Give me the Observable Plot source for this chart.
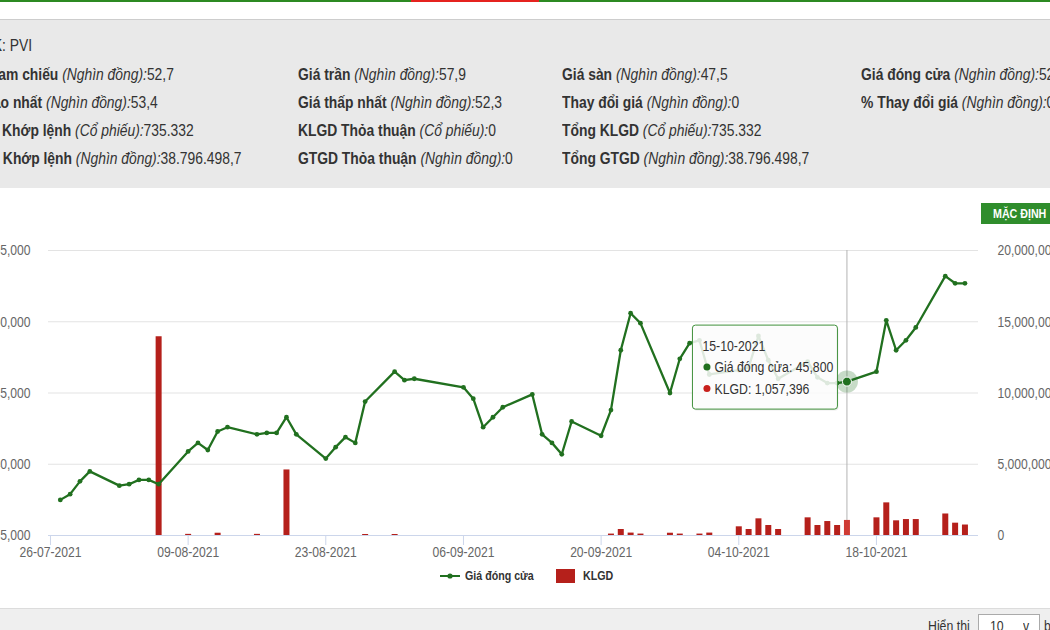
<!DOCTYPE html>
<html>
<head>
<meta charset="utf-8">
<script src="https://cdn.jsdelivr.net/npm/d3@7"></script>
<script src="https://cdn.jsdelivr.net/npm/@observablehq/plot@0.6"></script>
<style>
  html, body { margin: 0; padding: 0; width: 1050px; height: 630px; overflow: hidden; background: #fff; }
  body { position: relative; font-family: "Liberation Sans", Arial, sans-serif; }
  .nar { display: inline-block; transform: scaleX(0.82); transform-origin: 0 0; white-space: nowrap; }
  #topline { position: absolute; left: 0; top: 0; width: 1050px; height: 2px; background: #2c8a22; }
  #topline .red { position: absolute; left: 411px; top: 0; width: 128px; height: 2px; background: #e5231f; }
  #info { position: absolute; left: 0; top: 19px; width: 1050px; height: 168px; background: #e9e9e9; border-top: 1px solid #cdcdcd; }
  .cell { position: absolute; white-space: nowrap; font-size: 17px; line-height: 20px; color: #333; transform: scaleX(0.815); transform-origin: 0 0; }
  .cell b { font-weight: bold; }
  .cell i { font-style: italic; }
  #btn { position: absolute; left: 981px; top: 203px; width: 90px; height: 21px; background: #2f8d2c; color: #fff; font-size: 13px; font-weight: bold; line-height: 21px; padding-left: 12px; box-sizing: border-box; }
  #chart { position: absolute; left: 0; top: 230px; }
  #legend { position: absolute; left: 0; top: 566px; width: 1050px; height: 20px; font-size: 13px; font-weight: bold; color: #333; }
  #legend .item { position: absolute; top: 0; height: 20px; line-height: 20px; white-space: nowrap; }
  #bottom { position: absolute; left: 0; top: 608px; width: 1050px; height: 22px; background: #efefef; border-top: 1px solid #dcdcdc; }
  #bottom .lbl { position: absolute; left: 928px; top: 8px; font-size: 15px; color: #333; }
  #bottom .sel { position: absolute; left: 978px; top: 5px; width: 62px; height: 24px; background: #fff; border: 1px solid #aaa; box-sizing: border-box; font-size: 15px; color: #333; }
  #bottom .sel span { position: absolute; top: 2px; }
</style>
</head>
<body>
<div id="topline"><div class="red"></div></div>
<div id="info"></div>
<div id="btn"><span class="nar">MẶC ĐỊNH</span></div>
<div id="chart"></div>
<div id="legend"></div>
<div id="bottom">
  <div class="lbl"><span class="nar">Hiển thị</span></div>
  <div class="sel"><span style="left:11px" class="nar">10</span><span style="left:44px" class="nar">v</span></div>
  <div class="lbl" style="left:1044px"><span class="nar">bản ghi</span></div>
</div>
<script>
// ---------- data ----------
const infoRows = [
  [["Mã CK", "", ": PVI"]],
  [["Giá tham chiếu", "Nghìn đồng", "52,7"], ["Giá trần", "Nghìn đồng", "57,9"], ["Giá sàn", "Nghìn đồng", "47,5"], ["Giá đóng cửa", "Nghìn đồng", "52,7"]],
  [["Giá cao nhất", "Nghìn đồng", "53,4"], ["Giá thấp nhất", "Nghìn đồng", "52,3"], ["Thay đổi giá", "Nghìn đồng", "0"], ["% Thay đổi giá", "Nghìn đồng", "0"]],
  [["KLGD Khớp lệnh", "Cổ phiếu", "735.332"], ["KLGD Thỏa thuận", "Cổ phiếu", "0"], ["Tổng KLGD", "Cổ phiếu", "735.332"]],
  [["GTGD Khớp lệnh", "Nghìn đồng", "38.796.498,7"], ["GTGD Thỏa thuận", "Nghìn đồng", "0"], ["Tổng GTGD", "Nghìn đồng", "38.796.498,7"]]
];

const dates = [
  "2021-07-27","2021-07-28","2021-07-29","2021-07-30",
  "2021-08-02","2021-08-03","2021-08-04","2021-08-05","2021-08-06",
  "2021-08-09","2021-08-10","2021-08-11","2021-08-12","2021-08-13",
  "2021-08-16","2021-08-17","2021-08-18","2021-08-19","2021-08-20",
  "2021-08-23","2021-08-24","2021-08-25","2021-08-26","2021-08-27",
  "2021-08-30","2021-08-31","2021-09-01",
  "2021-09-06","2021-09-07","2021-09-08","2021-09-09","2021-09-10",
  "2021-09-13","2021-09-14","2021-09-15","2021-09-16","2021-09-17",
  "2021-09-20","2021-09-21","2021-09-22","2021-09-23","2021-09-24",
  "2021-09-27","2021-09-28","2021-09-29","2021-09-30","2021-10-01",
  "2021-10-04","2021-10-05","2021-10-06","2021-10-07","2021-10-08",
  "2021-10-11","2021-10-12","2021-10-13","2021-10-14","2021-10-15",
  "2021-10-18","2021-10-19","2021-10-20","2021-10-21","2021-10-22",
  "2021-10-25","2021-10-26","2021-10-27"
];
const closePrices = [
  37500, 37900, 38800, 39500,
  38500, 38600, 38900, 38900, 38600,
  40900, 41500, 41000, 42300, 42600,
  42100, 42200, 42200, 43300, 42100,
  40400, 41200, 41900, 41500, 44400,
  46500, 45900, 46000,
  45400, 44600, 42600, 43300, 44000,
  44900, 42100, 41500, 40700, 43000,
  42000, 43800, 48000, 50600, 49900,
  45000, 47400, 48500, 48700, 46300,
  46600, 46800, 49000, 47300, 46000,
  47200, 46100, 45700, 45700, 45800,
  46500, 50100, 48000, 48700, 49600,
  53200, 52700, 52700
];
const volumes = [
  20000, 15000, 25000, 20000,
  15000, 20000, 25000, 20000, 13950000,
  80000, 20000, 25000, 160000, 20000,
  80000, 20000, 25000, 4600000, 20000,
  20000, 25000, 20000, 15000, 70000,
  70000, 20000, 15000,
  20000, 25000, 20000, 15000, 20000,
  25000, 20000, 15000, 20000, 25000,
  30000, 100000, 420000, 170000, 100000,
  160000, 100000, 30000, 100000, 170000,
  610000, 420000, 1170000, 700000, 420000,
  1240000, 700000, 980000, 700000, 1057396,
  1240000, 2290000, 1030000, 1120000, 1120000,
  1510000, 865000, 735332
];
const priceTicks = [35000, 40000, 45000, 50000, 55000];
const volumeTicks = [0, 5000000, 10000000, 15000000, 20000000];
const dateTicks = ["2021-07-26","2021-08-09","2021-08-23","2021-09-06","2021-09-20","2021-10-04","2021-10-18"];
const xDomain = ["2021-07-25T19:12Z", "2021-10-28T09:05Z"];
const tipDate = "2021-10-15";
const seriesNames = ["Giá đóng cửa", "KLGD"];

// ---------- build ----------
const FONT = '"Liberation Sans", Arial, sans-serif';
const GREEN = "#21701f", RED = "#b5201b";
const PMIN = 35000, PMAX = 55000, VMAX = 20000000;
const v2p = v => PMIN + v / VMAX * (PMAX - PMIN);
const p2v = p => (p - PMIN) / (PMAX - PMIN) * VMAX;
const fmt = d3.format(",");
const fmtDate = d3.utcFormat("%d-%m-%Y");

const data = dates.map((d, i) => ({date: new Date(d), price: closePrices[i], vol: volumes[i]}));
const tip = data.find(d => +d.date === +new Date(tipDate));
// columns thinner than half a pixel are not drawn (pixel rounding of the original)
const barData = data.filter(d => d.vol >= 35000);

// info panel
const colX = [-41.5, 298, 562, 861];
const rowY = [36, 65, 93, 121, 149];
const info = d3.select("#info");
infoRows.forEach((row, r) => row.forEach((c, k) => {
  const el = info.append("div").attr("class", "cell").style("left", colX[k] + "px").style("top", (rowY[r] - 20) + "px");
  if (c[1]) el.html(`<b>${c[0]}</b> <i>(${c[1]}):</i>${c[2]}`);
  else el.html(`<b>${c[0]}</b>${c[2]}`);
}));

const chart = Plot.plot({
  width: 1050, height: 335,
  marginLeft: 48, marginRight: 72, marginTop: 20, marginBottom: 30,
  style: {fontFamily: FONT, fontSize: "14.8px", color: "#666", background: "transparent", overflow: "visible"},
  x: {type: "utc", domain: xDomain.map(d => new Date(d))},
  y: {domain: [PMIN, PMAX]},
  marks: [
    Plot.gridY(priceTicks.slice(1), {stroke: "#e3e3e3", strokeOpacity: 1}),
    Plot.ruleX([new Date(tipDate)], {stroke: "#b3b3b3", strokeWidth: 1}),
    Plot.ruleX(barData, {x: "date", y1: PMIN, y2: d => v2p(d.vol), strokeWidth: 6,
      stroke: d => (+d.date === +tip.date ? "#cf3b34" : RED)}),
    Plot.ruleY([PMIN], {stroke: "#ccd6eb"}),
    Plot.axisX(dateTicks.map(d => new Date(d)), {tickSize: 10, tickPadding: 1, stroke: "#ccd6eb", fill: "#666", tickFormat: fmtDate, label: null}),
    Plot.axisY(priceTicks, {anchor: "left", tickSize: 0, tickPadding: 18, fill: "#666", tickFormat: fmt, label: null}),
    Plot.axisY(volumeTicks.map(v2p), {anchor: "right", tickSize: 0, tickPadding: 19, fill: "#666", tickFormat: p => fmt(Math.round(p2v(p))), label: null}),
    Plot.line(data, {x: "date", y: "price", stroke: GREEN, strokeWidth: 2.3, curve: "linear"}),
    Plot.dot(data, {x: "date", y: "price", r: 2.4, fill: GREEN}),
    Plot.dot([tip], {x: "date", y: "price", r: 11, fill: GREEN, fillOpacity: 0.25}),
    Plot.dot([tip], {x: "date", y: "price", r: 4.5, fill: GREEN, stroke: "#fff", strokeWidth: 1})
  ]
});
document.getElementById("chart").appendChild(chart);

// narrow the lettering of every text (the original uses a condensed face)
function narrow(node) {
  const x = +node.getAttribute("x") || 0, y = +node.getAttribute("y") || 0;
  const t = node.getAttribute("transform") || "";
  node.setAttribute("transform", `${t} translate(${x},${y}) scale(0.82,1) translate(${-x},${-y})`);
}
d3.select(chart).selectAll("text").each(function() { narrow(this); });

// tooltip (positioned via the plot's own scales)
const px = chart.scale("x").apply(tip.date), py = chart.scale("y").apply(tip.price);
const svg = d3.select(chart);
const g = svg.append("g").attr("transform", `translate(${px - 154},${py - 56})`)
  .style("font-family", FONT).attr("text-anchor", "start");
g.append("rect").attr("x", 1).attr("y", 1.5).attr("width", 145).attr("height", 84).attr("rx", 3)
  .attr("fill", "#000").attr("fill-opacity", 0.08);
g.append("rect").attr("width", 145).attr("height", 84).attr("rx", 3)
  .attr("fill", "#fff").attr("fill-opacity", 0.85).attr("stroke", "#3f8f3a").attr("stroke-width", 1);
const tipTexts = [
  [10, 26, fmtDate(tip.date)],
  [22, 47, `${seriesNames[0]}: ${fmt(tip.price)}`],
  [22, 68.5, `${seriesNames[1]}: ${fmt(tip.vol)}`]
];
tipTexts.forEach(([x, y, s]) => {
  const t = g.append("text").attr("x", x).attr("y", y).attr("fill", "#333").attr("text-anchor", "start").style("font-size", "15px").text(s);
  narrow(t.node());
});
g.append("circle").attr("cx", 14.5).attr("cy", 42).attr("r", 3.5).attr("fill", GREEN);
g.append("circle").attr("cx", 14.5).attr("cy", 63.5).attr("r", 3.5).attr("fill", "#c8201c");

// legend
const lg = d3.select("#legend");
const it1 = lg.append("div").attr("class", "item").style("left", "439px");
it1.append("svg").attr("width", 22).attr("height", 20).style("vertical-align", "top").call(s => {
  s.append("line").attr("x1", 1).attr("x2", 21).attr("y1", 10).attr("y2", 10).attr("stroke", GREEN).attr("stroke-width", 2);
  s.append("circle").attr("cx", 11).attr("cy", 10).attr("r", 2.6).attr("fill", GREEN);
});
it1.append("span").attr("class", "nar").style("margin-left", "4px").style("vertical-align", "top").text(seriesNames[0]);
const it2 = lg.append("div").attr("class", "item").style("left", "556px");
it2.append("span").style("display", "inline-block").style("width", "19px").style("height", "14px")
  .style("background", RED).style("vertical-align", "top").style("margin-top", "3px");
it2.append("span").attr("class", "nar").style("margin-left", "8px").style("vertical-align", "top").text(seriesNames[1]);
</script>
</body>
</html>
